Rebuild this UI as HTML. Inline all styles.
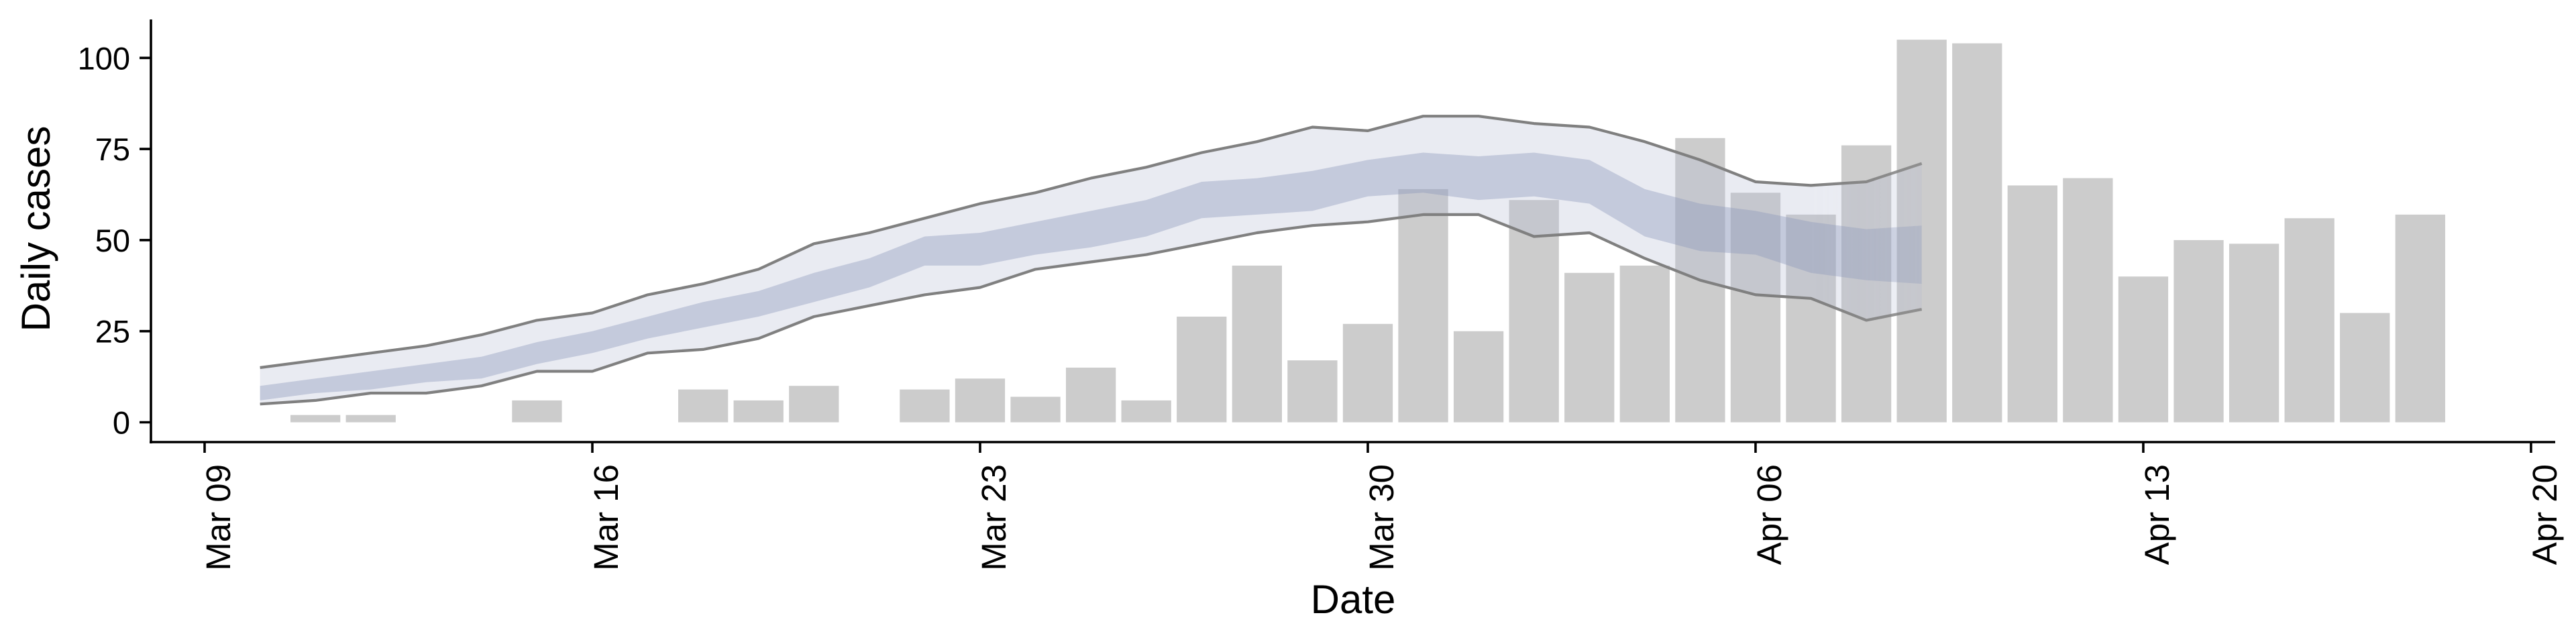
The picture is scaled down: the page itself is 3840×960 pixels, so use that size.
<!DOCTYPE html>
<html><head><meta charset="utf-8"><style>
html,body{margin:0;padding:0;background:#fff;}
svg{display:block;font-family:"Liberation Sans",sans-serif;}
</style></head><body>
<svg id="chart" width="3840" height="960" viewBox="0 0 3840 960" xmlns="http://www.w3.org/2000/svg">
<defs>
<linearGradient id="fade" gradientUnits="userSpaceOnUse" x1="2700" y1="0" x2="3190" y2="0">
<stop offset="0" stop-color="#fff" stop-opacity="1"/>
<stop offset="1" stop-color="#fff" stop-opacity="0.4"/>
</linearGradient>
<mask id="fadeMask" maskUnits="userSpaceOnUse" x="0" y="0" width="3840" height="960">
<rect x="0" y="0" width="3840" height="960" fill="url(#fade)"/>
</mask>
</defs>
<g id="bars"></g>
<g id="ribbon" mask="url(#fadeMask)"></g>
<g id="axes"></g>
</svg>
<script>
// bar data: day offset from Mar 09, cases
const barDays = [2,3,6,9,10,11,13,14,15,16,17,18,19,20,21,22,23,24,25,26,27,28,29,30,31,32,33,34,35,36,37,38,39,40];
const barValues = [2,2,6,9,6,10,9,12,7,15,6,29,43,17,27,64,25,61,41,43,78,63,57,76,105,104,65,67,40,50,49,56,30,57];
// ribbon data: day offsets 1..31 (Mar 10 .. Apr 09)
const ribbonDays = [1,2,3,4,5,6,7,8,9,10,11,12,13,14,15,16,17,18,19,20,21,22,23,24,25,26,27,28,29,30,31];
const outerUpper = [15,17,19,21,24,28,30,35,38,42,49,52,56,60,63,67,70,74,77,81,80,84,84,82,81,77,72,66,65,66,71];
const outerLower = [5,6,8,8,10,14,14,19,20,23,29,32,35,37,42,44,46,49,52,54,55,57,57,51,52,45,39,35,34,28,31];
const innerUpper = [10,12,14,16,18,22,25,29,33,36,41,45,51,52,55,58,61,66,67,69,72,74,73,74,72,64,60,58,55,53,54];
const innerLower = [6,8,9,11,12,16,19,23,26,29,33,37,43,43,46,48,51,56,57,58,62,63,61,62,60,51,47,46,41,39,38];
const yTicks = [0,25,50,75,100];
const yTickLabels = ["0","25","50","75","100"];
const xTickDays = [0,7,14,21,28,35,42];
const xTickLabels = ["Mar 09","Mar 16","Mar 23","Mar 30","Apr 06","Apr 13","Apr 20"];

const NS = "http://www.w3.org/2000/svg";
const X0 = 305, DAY = 82.57;
const Y0 = 629.5, UNIT = 5.432;
function xs(d){ return X0 + d*DAY; }
function ys(v){ return Y0 - v*UNIT; }
function mk(tag, attrs, parent){
  const e = document.createElementNS(NS, tag);
  for (const k in attrs) e.setAttribute(k, attrs[k]);
  parent.appendChild(e);
  return e;
}
const barsG = document.getElementById('bars');
const ribG = document.getElementById('ribbon');
const axG = document.getElementById('axes');

const bw = DAY*0.9;
barDays.forEach((d,i)=>{
  const v = barValues[i];
  const r = mk('rect', {x: xs(d)-bw/2, y: ys(v), width: bw, height: ys(0)-ys(v), fill:'#cccccc'}, barsG);
  
  
});

function bandPath(up, lo){
  let p = '';
  ribbonDays.forEach((d,i)=>{ p += (i?'L':'M') + xs(d).toFixed(1) + ',' + ys(up[i]).toFixed(1); });
  for (let i = ribbonDays.length-1; i >= 0; i--) p += 'L' + xs(ribbonDays[i]).toFixed(1) + ',' + ys(lo[i]).toFixed(1);
  return p + 'Z';
}
function linePath(arr){
  let p = '';
  ribbonDays.forEach((d,i)=>{ p += (i?'L':'M') + xs(d).toFixed(1) + ',' + ys(arr[i]).toFixed(1); });
  return p;
}
const ob = mk('path', {d: bandPath(outerUpper, outerLower), fill:'rgb(180,187,210)', 'fill-opacity':0.29}, ribG);


const ib = mk('path', {d: bandPath(innerUpper, innerLower), fill:'rgb(140,150,185)', 'fill-opacity':0.39}, ribG);


const ul = mk('path', {d: linePath(outerUpper), fill:'none', stroke:'#808080', 'stroke-width':4.2, 'stroke-linejoin':'round'}, ribG);


const ll = mk('path', {d: linePath(outerLower), fill:'none', stroke:'#808080', 'stroke-width':4.2, 'stroke-linejoin':'round'}, ribG);



// axes
const yAxis = mk('line', {x1:225, y1:29, x2:225, y2:661, stroke:'#000', 'stroke-width':3.6}, axG);


const xAxis = mk('line', {x1:223, y1:659, x2:3809, y2:659, stroke:'#000', 'stroke-width':3.6}, axG);



yTicks.forEach((v,i)=>{
  const t = mk('line', {x1:208, y1:ys(v), x2:225, y2:ys(v), stroke:'#000', 'stroke-width':3.6}, axG);
  
  
  const tx = mk('text', {x:194, y:ys(v)+17, 'text-anchor':'end', 'font-size':47, fill:'#000'}, axG);
  tx.textContent = yTickLabels[i];
  
  
});
xTickDays.forEach((d,i)=>{
  const x = xs(d);
  const t = mk('line', {x1:x, y1:659, x2:x, y2:675, stroke:'#000', 'stroke-width':3.6}, axG);
  
  
  const tx = mk('text', {transform:'translate(' + (x+38) + ',692) rotate(-90)', 'text-anchor':'end', 'font-size':51, fill:'#000'}, axG);
  tx.textContent = xTickLabels[i];
  
  
});
const yt = mk('text', {transform:'translate(74,341) rotate(-90)', 'text-anchor':'middle', 'font-size':60, fill:'#000'}, axG);
yt.textContent = 'Daily cases';


const xt = mk('text', {x:2017, y:914, 'text-anchor':'middle', 'font-size':60, fill:'#000'}, axG);
xt.textContent = 'Date';


</script>
</body></html>
